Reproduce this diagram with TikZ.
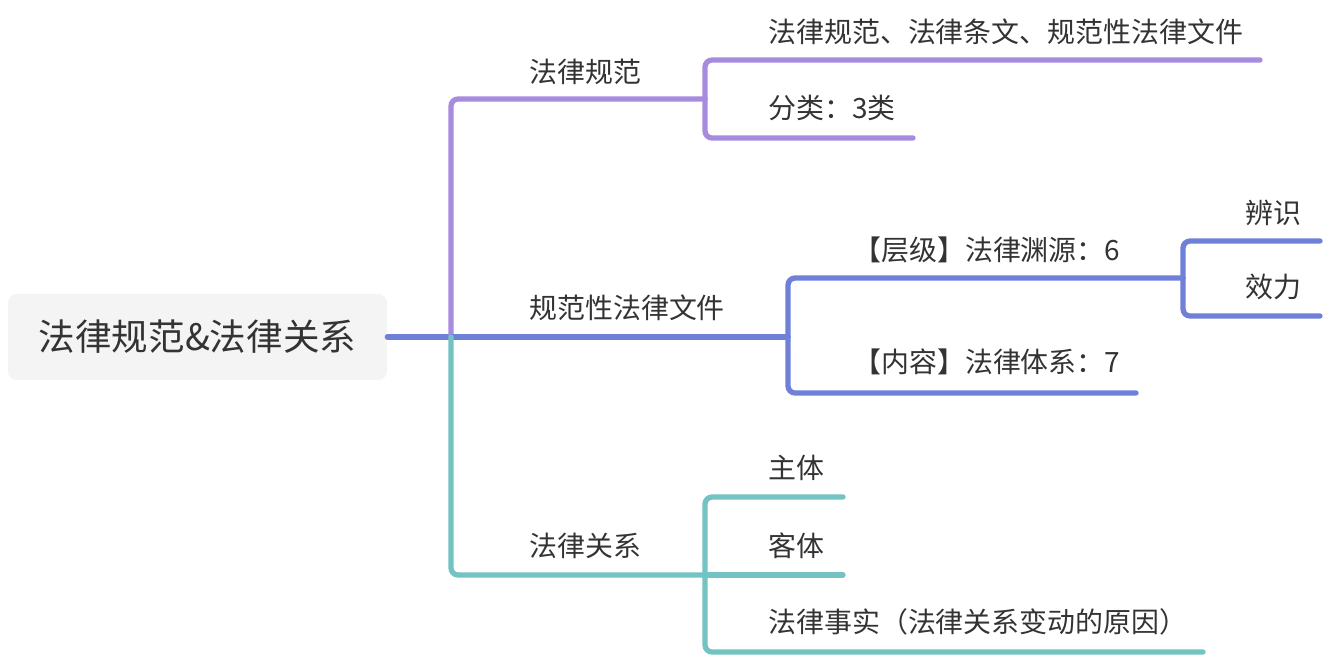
\documentclass[tikz,border=0pt]{standalone}
\usepackage{fontspec}
\setmainfont{Noto Sans CJK SC}
\definecolor{RootClr}{HTML}{F4F4F4}
\definecolor{PurpleClr}{HTML}{A68BDE}
\definecolor{BlueClr}{HTML}{6F80D9}
\definecolor{TealClr}{HTML}{73C3C3}
\definecolor{TextClr}{HTML}{333333}
\tikzset{
  rootbox/.style={fill=RootClr,rounded corners=5pt,minimum width=7.58cm,minimum height=1.72cm,
    text=TextClr,font=\fontsize{20.8}{24}\selectfont,inner sep=0pt},
  lbl/.style={anchor=west,text=TextClr,font=\fontsize{15.9}{18}\selectfont,inner sep=0pt},
  purpleline/.style={draw=PurpleClr,line width=3pt,line cap=round,rounded corners=4pt},
  blueline/.style={draw=BlueClr,line width=3pt,line cap=round,rounded corners=4pt},
  tealline/.style={draw=TealClr,line width=3pt,line cap=round,rounded corners=4pt}
}
\begin{document}
\begin{tikzpicture}[x=0.02cm,y=-0.02cm]
\useasboundingbox (0,0) rectangle (1328,656);

\node[rootbox] (root) at (197.5,337) {法律规范\&法律关系};

% joints of the tree
\coordinate (t0) at (451,337);
\coordinate (j1) at (705,99);
\coordinate (j2) at (788,337);
\coordinate (j21) at (1183,278);
\coordinate (j3) at (705,575);

% free ends
\coordinate (e11) at (1260,60);
\coordinate (e12) at (913,138);
\coordinate (e211) at (1320,241);
\coordinate (e212) at (1320,316);
\coordinate (e22) at (1136,393);
\coordinate (e31) at (843,497);
\coordinate (e32) at (843,575);
\coordinate (e33) at (1203,652);

% labels
\node[lbl] (flgf) at (529,72) {法律规范};
\node[lbl] (gfx) at (529,308) {规范性法律文件};
\node[lbl] (flgx) at (529,546) {法律关系};
\node[lbl] (tw) at (768,32) {法律规范、法律条文、规范性法律文件};
\node[lbl] (fl) at (768,108) {分类：3类};
\node[lbl] (cj) at (853,250) {【层级】法律渊源：6};
\node[lbl] (nr) at (853,362) {【内容】法律体系：7};
\node[lbl] (bs) at (1245,213) {辨识};
\node[lbl] (xl) at (1245,287) {效力};
\node[lbl] (zt) at (768,468) {主体};
\node[lbl] (kt) at (768,546) {客体};
\node[lbl] (ss) at (768,622) {法律事实（法律关系变动的原因）};

% connectors
\draw[blueline] (root.east) -- (t0);
\draw[purpleline] (t0) |- (j1);
\draw[purpleline] (j1) |- (e11);
\draw[purpleline] (j1) |- (e12);
\draw[blueline] (t0) -- (j2);
\draw[blueline] (j2) |- (j21);
\draw[blueline] (j2) |- (e22);
\draw[blueline] (j21) |- (e211);
\draw[blueline] (j21) |- (e212);
\draw[tealline] (t0) |- (j3);
\draw[tealline] (j3) |- (e31);
\draw[tealline] (j3) -- (e32);
\draw[tealline] (j3) |- (e33);

\end{tikzpicture}
\end{document}
